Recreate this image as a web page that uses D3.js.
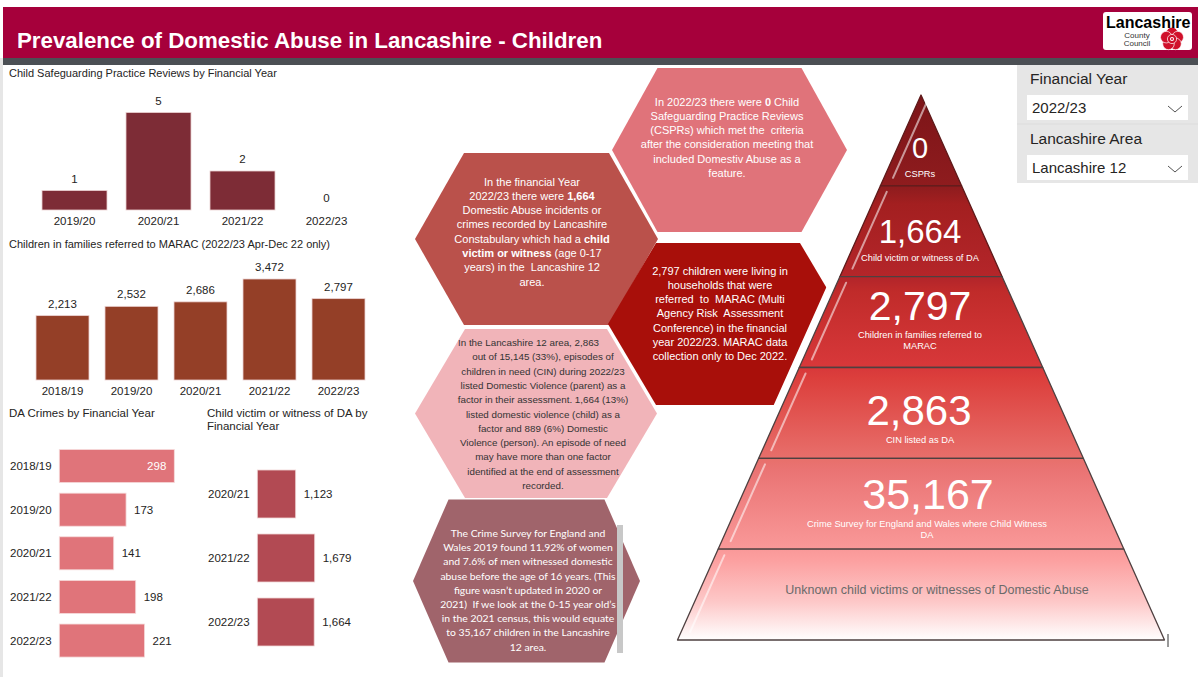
<!DOCTYPE html>
<html>
<head>
<meta charset="utf-8">
<script src="https://cdn.jsdelivr.net/npm/d3@7"></script>
<style>
  body { margin: 0; background: #ffffff; }
  svg { display: block; font-family: "Liberation Sans", Arial, sans-serif; }
</style>
</head>
<body>
<div id="canvas"></div>
<script>
"use strict"

let svgWidth = 1198
let svgHeight = 677

let cspYears = ["2019/20", "2020/21", "2021/22", "2022/23"]
let cspValues = [1, 5, 2, 0]

let maracYears = ["2018/19", "2019/20", "2020/21", "2021/22", "2022/23"]
let maracValues = [2213, 2532, 2686, 3472, 2797]

let daYears = ["2018/19", "2019/20", "2020/21", "2021/22", "2022/23"]
let daValues = [298, 173, 141, 198, 221]

let cvYears = ["2020/21", "2021/22", "2022/23"]
let cvValues = [1123, 1679, 1664]

let pyramidValues = ["0", "1,664", "2,797", "2,863", "35,167", ""]
let pyramidLabels = [
    ["CSPRs"],
    ["Child victim or witness of DA"],
    ["Children in families referred to", "MARAC"],
    ["CIN listed as DA"],
    ["Crime Survey for England and Wales where Child Witness", "DA"],
    ["Unknown child victims or witnesses of Domestic Abuse"]
]

let fmt = d3.format(",")
let textColor = "#252423"

let svg = d3.select("#canvas")
    .append("svg")
    .attr("width", svgWidth)
    .attr("height", svgHeight)

/* left grey strip */
svg.append("rect")
    .attr("x", 0).attr("y", 58)
    .attr("width", 3).attr("height", svgHeight - 58)
    .attr("fill", "#e6e6e6")

/* header band */
svg.append("rect")
    .attr("x", 3).attr("y", 7)
    .attr("width", svgWidth - 3).attr("height", 51)
    .attr("fill", "#a6003b")
svg.append("rect")
    .attr("x", 3).attr("y", 58)
    .attr("width", svgWidth - 3).attr("height", 7)
    .attr("fill", "#4b4f54")

svg.append("text")
    .attr("x", 17).attr("y", 47.5)
    .attr("fill", "white")
    .attr("font-size", 22.3)
    .attr("font-weight", "bold")
    .text("Prevalence of Domestic Abuse in Lancashire - Children")

/* logo */
let logo = svg.append("g")
logo.append("rect")
    .attr("x", 1103).attr("y", 12)
    .attr("width", 89).attr("height", 38)
    .attr("rx", 3)
    .attr("fill", "white")
// rose
let rose = logo.append("g").attr("transform", "translate(1172,39)")
for (let i = 0; i < 5; i++) {
    let a = (i * 72 - 90) * Math.PI / 180
    rose.append("circle")
        .attr("cx", Math.cos(a) * 6).attr("cy", Math.sin(a) * 6)
        .attr("r", 5.8)
        .attr("fill", "#d0102a").attr("stroke", "white").attr("stroke-width", 0.7)
}
rose.append("circle").attr("r", 4.6).attr("fill", "#d0102a").attr("stroke", "white").attr("stroke-width", 0.7)
rose.append("circle").attr("r", 2).attr("fill", "white")
rose.append("circle").attr("r", 1).attr("fill", "#d0102a")

logo.append("text")
    .attr("x", 1106).attr("y", 28)
    .attr("font-size", 16).attr("font-weight", "bold")
    .attr("fill", "black")
    .text("Lancashire")
logo.append("text")
    .attr("x", 1137).attr("y", 38)
    .attr("font-size", 8).attr("text-anchor", "middle")
    .attr("fill", "#333")
    .text("County")
logo.append("text")
    .attr("x", 1137).attr("y", 46)
    .attr("font-size", 8).attr("text-anchor", "middle")
    .attr("fill", "#333")
    .text("Council")

/* filter panel */
svg.append("rect")
    .attr("x", 1017).attr("y", 65)
    .attr("width", svgWidth - 1017).attr("height", 118)
    .attr("fill", "#e6e6e6")
svg.append("line")
    .attr("x1", 1017).attr("x2", svgWidth)
    .attr("y1", 124).attr("y2", 124)
    .attr("stroke", "#dcdcdc")

let slicers = [
    {title: "Financial Year", value: "2022/23", y: 84},
    {title: "Lancashire Area", value: "Lancashire 12", y: 144}
]
slicers.forEach(function (s) {
    svg.append("text")
        .attr("x", 1030).attr("y", s.y)
        .attr("font-size", 15.5).attr("fill", textColor)
        .text(s.title)
    svg.append("rect")
        .attr("x", 1027).attr("y", s.y + 11)
        .attr("width", 161).attr("height", 25)
        .attr("fill", "white")
    svg.append("text")
        .attr("x", 1032).attr("y", s.y + 29)
        .attr("font-size", 15).attr("fill", textColor)
        .text(s.value)
    svg.append("path")
        .attr("d", "M" + 1168 + "," + (s.y + 22) + " l7,6 l7,-6")
        .attr("fill", "none").attr("stroke", "#555").attr("stroke-width", 1)
})

/* ---------- Chart 1: CSPRs ---------- */
svg.append("text")
    .attr("x", 9).attr("y", 77)
    .attr("font-size", 11).attr("fill", textColor)
    .text("Child Safeguarding Practice Reviews by Financial Year")

let cspX = d3.scaleBand()
    .domain(cspYears)
    .range([32.5, 368.5])
    .paddingInner(0.226)
    .paddingOuter(0.113)
let cspY = d3.scaleLinear()
    .domain([0, 5])
    .range([210, 112.5])

svg.selectAll("rect.csp")
    .data(cspValues)
    .join("rect")
    .attr("class", "csp")
    .attr("x", function (d, i) { return cspX(cspYears[i]) })
    .attr("y", function (d) { return cspY(d) })
    .attr("width", cspX.bandwidth())
    .attr("height", function (d) { return cspY(0) - cspY(d) })
    .attr("fill", "#7d2c36")
    .attr("stroke", "#ecd3d3").attr("stroke-width", 0.8)

svg.selectAll("text.cspVal")
    .data(cspValues)
    .join("text")
    .attr("class", "cspVal")
    .attr("x", function (d, i) { return cspX(cspYears[i]) + cspX.bandwidth() / 2 })
    .attr("y", function (d) { return cspY(d) - 8 })
    .attr("text-anchor", "middle")
    .attr("font-size", 11.5).attr("fill", textColor)
    .text(function (d) { return fmt(d) })

svg.selectAll("text.cspCat")
    .data(cspYears)
    .join("text")
    .attr("class", "cspCat")
    .attr("x", function (d) { return cspX(d) + cspX.bandwidth() / 2 })
    .attr("y", 225)
    .attr("text-anchor", "middle")
    .attr("font-size", 11.5).attr("fill", textColor)
    .text(function (d) { return d })

/* ---------- Chart 2: MARAC ---------- */
svg.append("text")
    .attr("x", 9).attr("y", 248)
    .attr("font-size", 11).attr("fill", textColor)
    .text("Children in families referred to MARAC (2022/23 Apr-Dec 22 only)")

let maracX = d3.scaleBand()
    .domain(maracYears)
    .range([28, 373])
    .paddingInner(0.232)
    .paddingOuter(0.116)
let maracY = d3.scaleLinear()
    .domain([0, 3472])
    .range([380, 279])

svg.selectAll("rect.marac")
    .data(maracValues)
    .join("rect")
    .attr("class", "marac")
    .attr("x", function (d, i) { return maracX(maracYears[i]) })
    .attr("y", function (d) { return maracY(d) })
    .attr("width", maracX.bandwidth())
    .attr("height", function (d) { return maracY(0) - maracY(d) })
    .attr("fill", "#943f27")
    .attr("stroke", "#ecd3d3").attr("stroke-width", 0.8)

svg.selectAll("text.maracVal")
    .data(maracValues)
    .join("text")
    .attr("class", "maracVal")
    .attr("x", function (d, i) { return maracX(maracYears[i]) + maracX.bandwidth() / 2 })
    .attr("y", function (d) { return maracY(d) - 8 })
    .attr("text-anchor", "middle")
    .attr("font-size", 11.5).attr("fill", textColor)
    .text(function (d) { return fmt(d) })

svg.selectAll("text.maracCat")
    .data(maracYears)
    .join("text")
    .attr("class", "maracCat")
    .attr("x", function (d) { return maracX(d) + maracX.bandwidth() / 2 })
    .attr("y", 395)
    .attr("text-anchor", "middle")
    .attr("font-size", 11.5).attr("fill", textColor)
    .text(function (d) { return d })

/* ---------- Chart 3: DA crimes ---------- */
svg.append("text")
    .attr("x", 9).attr("y", 417)
    .attr("font-size", 11.5).attr("fill", textColor)
    .text("DA Crimes by Financial Year")

let daY = d3.scaleBand()
    .domain(daYears)
    .range([444.3, 662.3])
    .paddingInner(0.243)
    .paddingOuter(0.12)
let daX = d3.scaleLinear()
    .domain([0, 298])
    .range([59.3, 174.3])

svg.selectAll("rect.da")
    .data(daValues)
    .join("rect")
    .attr("class", "da")
    .attr("x", daX(0))
    .attr("y", function (d, i) { return daY(daYears[i]) })
    .attr("width", function (d) { return daX(d) - daX(0) })
    .attr("height", daY.bandwidth())
    .attr("fill", "#e0747a")
    .attr("stroke", "#f5dada").attr("stroke-width", 0.8)

svg.selectAll("text.daVal")
    .data(daValues)
    .join("text")
    .attr("class", "daVal")
    .attr("x", function (d) { return daX(d) + 22 > 190 ? daX(d) - 8 : daX(d) + 8 })
    .attr("y", function (d, i) { return daY(daYears[i]) + daY.bandwidth() / 2 + 4 })
    .attr("text-anchor", function (d) { return daX(d) + 22 > 190 ? "end" : "start" })
    .attr("font-size", 11.5)
    .attr("fill", function (d) { return daX(d) + 22 > 190 ? "white" : textColor })
    .text(function (d) { return fmt(d) })

svg.selectAll("text.daCat")
    .data(daYears)
    .join("text")
    .attr("class", "daCat")
    .attr("x", 10)
    .attr("y", function (d) { return daY(d) + daY.bandwidth() / 2 + 4 })
    .attr("font-size", 11.5).attr("fill", textColor)
    .text(function (d) { return d })

/* ---------- Chart 4: Child victim or witness ---------- */
svg.append("text")
    .attr("x", 207).attr("y", 417)
    .attr("font-size", 11.5).attr("fill", textColor)
    .text("Child victim or witness of DA by")
svg.append("text")
    .attr("x", 207).attr("y", 430)
    .attr("font-size", 11.5).attr("fill", textColor)
    .text("Financial Year")

let cvY = d3.scaleBand()
    .domain(cvYears)
    .range([462, 654])
    .paddingInner(0.25)
    .paddingOuter(0.125)
let cvX = d3.scaleLinear()
    .domain([0, 1679])
    .range([257.3, 314.7])

svg.selectAll("rect.cv")
    .data(cvValues)
    .join("rect")
    .attr("class", "cv")
    .attr("x", cvX(0))
    .attr("y", function (d, i) { return cvY(cvYears[i]) })
    .attr("width", function (d) { return cvX(d) - cvX(0) })
    .attr("height", cvY.bandwidth())
    .attr("fill", "#b24a53")
    .attr("stroke", "#f0d6d6").attr("stroke-width", 0.8)

svg.selectAll("text.cvVal")
    .data(cvValues)
    .join("text")
    .attr("class", "cvVal")
    .attr("x", function (d) { return cvX(d) + 8 })
    .attr("y", function (d, i) { return cvY(cvYears[i]) + cvY.bandwidth() / 2 + 4 })
    .attr("font-size", 11.5).attr("fill", textColor)
    .text(function (d) { return fmt(d) })

svg.selectAll("text.cvCat")
    .data(cvYears)
    .join("text")
    .attr("class", "cvCat")
    .attr("x", 208)
    .attr("y", function (d) { return cvY(d) + cvY.bandwidth() / 2 + 4 })
    .attr("font-size", 11.5).attr("fill", textColor)
    .text(function (d) { return d })

/* ---------- Hexagons ---------- */
function hexPoints(cx, cy, halfW, halfTop, halfH) {
    return [
        [cx - halfW, cy], [cx - halfTop, cy - halfH], [cx + halfTop, cy - halfH],
        [cx + halfW, cy], [cx + halfTop, cy + halfH], [cx - halfTop, cy + halfH]
    ]
}

let hexes = [
    {cx: 729.5, cy: 150, hw: 117.5, ht: 72, hh: 82, fill: "#e0737a", color: "white",
     font: "Liberation Sans", size: 11, y0: 105.5, lh: 14.3, tx: 727,
     lines: ["In 2022/23 there were *0* Child", "Safeguarding Practice Reviews",
             "(CSPRs) which met the  criteria", "after the consideration meeting that",
             "included Domestiv Abuse as a", "feature."]},
    {cx: 536.5, cy: 239, hw: 121.5, ht: 72.5, hh: 86, fill: "#ba514b", color: "white",
     font: "Liberation Sans", size: 11, y0: 185.5, lh: 14.3, tx: 532,
     lines: ["In the financial Year", "2022/23 there were *1,664*",
             "Domestic Abuse incidents or", "crimes recorded by Lancashire",
             "Constabulary which had a *child*", "*victim or witness* (age 0-17",
             "years) in the  Lancashire 12", "area."]},
    {cx: 728, cy: 324, hw: 120, ht: 72, hh: 81, fill: "#a80f0a", color: "white",
     font: "Liberation Sans", size: 11, y0: 274.5, lh: 14.3, tx: 720,
     lines: ["2,797 children were living in", "households that were",
             "referred  to  MARAC (Multi", "Agency Risk  Assessment",
             "Conference) in the financial", "year 2022/23. MARAC data",
             "collection only to Dec 2022."]},
    {cx: 536, cy: 413.5, hw: 121, ht: 71, hh: 84.5, fill: "#f1b4b9", color: "#333333",
     font: "Liberation Sans", size: 9.8, y0: 346, lh: 14.3, tx: 543,
     lines: ["In the Lancashire 12 area, 2,863", "out of 15,145 (33%), episodes of",
             "children in need (CIN) during 2022/23", "listed Domestic Violence (parent) as a",
             "factor in their assessment. 1,664 (13%)", "listed domestic violence (child) as a",
             "factor and 889 (6%) Domestic", "Violence (person). An episode of need",
             "may have more than one factor", "identified at the end of assessment",
             "recorded."]},
    {cx: 526.5, cy: 581, hw: 113.5, ht: 78, hh: 81.5, fill: "#a0646b", color: "white",
     font: "Lato", size: 10.4, y0: 537, lh: 14.2, tx: 528,
     lines: ["The Crime Survey for England and", "Wales 2019 found 11.92% of women",
             "and 7.6% of men witnessed domestic", "abuse before the age of 16 years. (This",
             "figure wasn\u2019t updated in 2020 or", "2021)  If we look at the 0-15 year old\u2019s",
             "in the 2021 census, this would equate", "to 35,167 children in the Lancashire",
             "12 area."]}
]

let line = d3.line()

hexes.forEach(function (h, hi) {
    svg.append("path")
        .attr("d", line(hexPoints(h.cx, h.cy, h.hw, h.ht, h.hh)) + "Z")
        .attr("fill", h.fill)

    h.lines.forEach(function (ln, i) {
        let t = svg.append("text")
            .attr("x", (hi === 3 && i === 0) ? 458 : h.tx)
            .attr("y", h.y0 + i * h.lh)
            .attr("text-anchor", (hi === 3 && i === 0) ? "start" : "middle")
            .attr("font-family", h.font)
            .attr("font-size", h.size)
            .attr("fill", h.color)
            .attr("xml:space", "preserve")
            .style("white-space", "pre")
        ln.split("*").forEach(function (part, pi) {
            if (part === "") return
            t.append("tspan")
                .attr("font-weight", pi % 2 === 1 ? "bold" : "normal")
                .text(part)
        })
    })
})

/* scrollbar on the last hexagon */
svg.append("rect")
    .attr("x", 617).attr("y", 525)
    .attr("width", 6).attr("height", 128)
    .attr("fill", "#c8c8c8")

/* ---------- Pyramid ---------- */
let apexX = 921
let apexY = 95
let baseY = 640
let baseHalf = 243.5

let layerY = d3.scaleBand()
    .domain(d3.range(pyramidValues.length))
    .range([apexY, baseY])
let halfW = d3.scaleLinear()
    .domain([apexY, baseY])
    .range([0, baseHalf])

let defs = svg.append("defs")
let grad = defs.append("linearGradient")
    .attr("id", "pyrGrad")
    .attr("gradientUnits", "userSpaceOnUse")
    .attr("x1", 0).attr("x2", 0)
    .attr("y1", apexY).attr("y2", baseY)
let stops = [
    [0, "#7c1418"], [0.17, "#8f1c1e"], [0.2, "#a31f20"], [0.34, "#b5262a"],
    [0.36, "#c02b2a"], [0.5, "#d8383a"], [0.52, "#dc3f3c"], [0.67, "#e8706c"],
    [0.69, "#ea7474"], [0.83, "#f99898"], [0.85, "#fc9e9e"], [0.93, "#fdc8c8"], [1, "#ffffff"]
]
stops.forEach(function (s) {
    grad.append("stop").attr("offset", s[0]).attr("stop-color", s[1])
})

// white halo behind pyramid
svg.append("path")
    .attr("d", line([[apexX, apexY], [apexX + baseHalf, baseY], [apexX - baseHalf, baseY]]) + "Z")
    .attr("fill", "white")
    .attr("stroke", "white")
    .attr("stroke-width", 16)
    .attr("stroke-linejoin", "round")

pyramidValues.forEach(function (v, i) {
    let y0 = layerY(i)
    let y1 = y0 + layerY.bandwidth()
    let pts = [
        [apexX - halfW(y0), y0], [apexX + halfW(y0), y0],
        [apexX + halfW(y1), y1], [apexX - halfW(y1), y1]
    ]
    svg.append("path")
        .attr("d", line(pts) + "Z")
        .attr("fill", "url(#pyrGrad)")
        .attr("stroke", i < 2 ? "#5e1a1a" : "#4e4040")
        .attr("stroke-width", 1.3)
        .attr("stroke-linejoin", "round")

    // glossy highlight on left edge
    let ya = y0 + 6
    let yb = y1 - 8
    svg.append("line")
        .attr("x1", apexX - halfW(ya) + 9).attr("y1", ya)
        .attr("x2", apexX - halfW(yb) + 9).attr("y2", yb)
        .attr("stroke", "white")
        .attr("stroke-opacity", 0.55)
        .attr("stroke-width", 2)
        .attr("stroke-linecap", "round")
})

let numSizes = [29, 33, 41, 42, 43]
let numBase = [158, 243, 320, 425, 509]
let numX = [920, 920, 920, 919, 928]
let labBase = [176.5, 260.5, 338, 443, 527]

pyramidValues.forEach(function (v, i) {
    if (v === "") return
    svg.append("text")
        .attr("x", numX[i]).attr("y", numBase[i])
        .attr("text-anchor", "middle")
        .attr("font-size", numSizes[i])
        .attr("fill", "white")
        .text(v)
    pyramidLabels[i].forEach(function (l, j) {
        svg.append("text")
            .attr("x", i === 4 ? 927 : 920).attr("y", labBase[i] + j * 10.5)
            .attr("text-anchor", "middle")
            .attr("font-size", 9.3)
            .attr("fill", "white")
            .text(l)
    })
})

svg.append("text")
    .attr("x", 937).attr("y", 594)
    .attr("text-anchor", "middle")
    .attr("font-size", 12.5)
    .attr("fill", "#6a6a6a")
    .text(pyramidLabels[5][0])

svg.append("line")
    .attr("x1", 1168).attr("x2", 1168)
    .attr("y1", 634).attr("y2", 647)
    .attr("stroke", "#333").attr("stroke-width", 1)
</script>
</body>
</html>
